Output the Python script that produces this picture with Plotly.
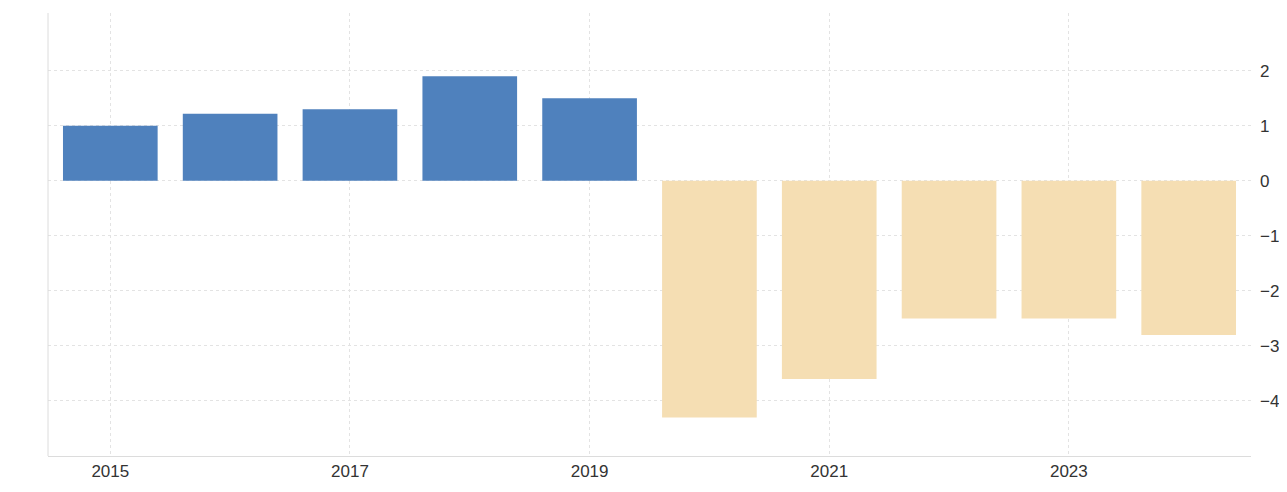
import plotly.graph_objects as go

years = [2015, 2016, 2017, 2018, 2019, 2020, 2021, 2022, 2023, 2024]
values = [1.0, 1.22, 1.3, 1.9, 1.5, -4.3, -3.6, -2.5, -2.5, -2.8]
colors = ["#4f81bd" if v >= 0 else "#f5deb3" for v in values]
tick_years = [2015, 2017, 2019, 2021, 2023]
y_ticks = [-4, -3, -2, -1, 0, 1, 2]

fig = go.Figure(go.Bar(x=years, y=values, marker_color=colors, marker_line_width=0, width=0.79))
fig.update_layout(
    width=1287, height=492, margin=dict(l=40, r=44, t=5, b=44),
    plot_bgcolor="white", paper_bgcolor="white", showlegend=False,
    font=dict(family="Arial, Liberation Sans", size=17, color="#333"),
)
fig.update_xaxes(range=[2014.48, 2024.52], tickvals=tick_years, showgrid=True,
                 gridcolor="#e3e3e3", griddash="dot", showline=True, linecolor="#dcdcdc",
                 ticks="", zeroline=False, mirror=False)
fig.update_yaxes(range=[-5.0, 3.05], tickvals=y_ticks, side="right", showgrid=True,
                 gridcolor="#e3e3e3", griddash="dot", zeroline=False, ticks="",
                 showline=False, ticklabelstandoff=8)
fig.add_shape(type="line", xref="paper", yref="paper", x0=0, x1=0, y0=0, y1=1,
              line=dict(color="#dcdcdc", width=1))
fig.write_html("out.html")
